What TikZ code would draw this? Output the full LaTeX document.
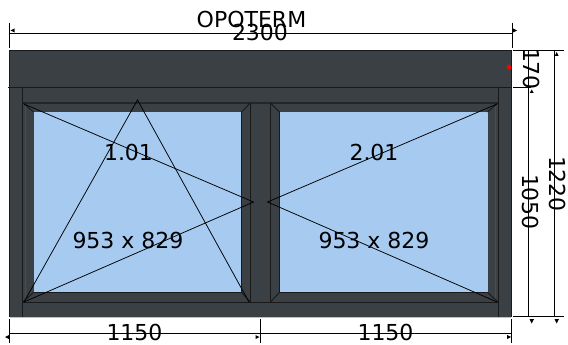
\documentclass[tikz,border=0pt]{standalone}
\usepackage{fontspec}
\setmainfont{DejaVu Sans}
\begin{document}
\begin{tikzpicture}[x=1pt,y=-1pt,
  frameline/.style={draw=black!90,line width=0.9pt,line join=miter},
  band/.style={draw=black!85,line width=1.4pt},
  faint/.style={draw=black!70,line width=0.4pt},
  dim/.style={draw=black,line width=0.8pt},
  tip/.style={fill=black,draw=none},
  lbl/.style={font=\fontsize{22}{22}\selectfont,inner sep=0pt,text=black},
  open/.style={draw=black,line width=0.75pt}]
\definecolor{frameC}{HTML}{3A4044}
\definecolor{glassC}{HTML}{A6CAF0}
\useasboundingbox (0,0) rectangle (568,345);
% frame
\fill[frameC] (9.5,50.5) rectangle (511,317);
\fill[glassC] (33.5,112) rectangle (241.5,292.3);
\fill[glassC] (279.5,112) rectangle (487.5,292.3);
\draw[frameline] (9.5,317) -- (9.5,50.5) -- (511,50.5) -- (511,317);
\draw[draw=black!25,line width=0.7pt] (9.5,317.3) -- (511,317.3);
\draw[frameline] (8,87.5) -- (511,87.5);
\draw[frameline] (22.7,87.5) -- (22.7,317);
\draw[frameline] (498,87.5) -- (498,317);
\draw[faint] (25.5,103) -- (25.5,302) (495.5,103) -- (495.5,302);
% bands across both sashes
\draw[band] (23,103) -- (498,103);
\draw[frameline] (23,302) -- (498,302);
% left sash
\draw[frameline] (250.3,103) -- (250.3,302);
\draw[frameline] (241.5,112) -- (241.5,292.3) -- (33.5,292.3);
\draw[frameline] (23,103) -- (33.5,112) (250.3,103) -- (241.5,112)
  (23,302) -- (33.5,292.3) (250.3,302) -- (241.5,292.3);
% right sash
\draw[frameline] (270.5,103) -- (270.5,302);
\draw[frameline] (279.5,112) -- (279.5,292.3) -- (487.5,292.3);
\draw[frameline] (270.5,103) -- (279.5,112) (498,103) -- (487.5,112)
  (270.5,302) -- (279.5,292.3) (498,302) -- (487.5,292.3);
% opening lines
\draw[open] (24,104) -- (253.5,202) -- (24,302);
\draw[open] (24,302) -- (137.5,100) -- (249,302);
\draw[open] (497,104) -- (267.5,202) -- (497,302);
% handle
\fill[red] (509,67) circle (2.4);
% dimension lines
\coordinate (tl) at (9.5,33);
\coordinate (tr) at (512,33);
\draw[dim] (tl) -- (tr);
\draw[dim] (9.5,23) -- (9.5,48) (512,23) -- (512,48);
\fill[tip] (10.5,30.5) -- (14.5,28.5) -- (14.5,32.5) -- cycle;
\fill[tip] (517,30.5) -- (513,28.5) -- (513,32.5) -- cycle;
\draw[dim] (9.5,333.5) -- (511,333.5);
\draw[dim] (9.5,319) -- (9.5,343) (260.5,319) -- (260.5,343) (511,319) -- (511,343);
\fill[tip] (5,337) -- (9,335) -- (9,339) -- cycle;
\fill[tip] (259.5,337) -- (255.5,335) -- (255.5,339) -- cycle;
\fill[tip] (511,337) -- (507,335) -- (507,339) -- cycle;
\draw[dim] (513,50.5) -- (564,50.5) (513,87.5) -- (531,87.5) (513,316.5) -- (564,316.5);
\draw[dim] (528.5,50.5) -- (528.5,316.5);
\draw[dim] (554,50.5) -- (554,316.5);
\fill[tip] (531.7,323.5) -- (529.5,319) -- (534,319) -- cycle;
\fill[tip] (556.7,323.5) -- (554.5,319) -- (559,319) -- cycle;
\fill[tip] (556.7,52) -- (554.7,56) -- (558.7,56) -- cycle;
\fill[tip] (531.7,89.5) -- (529.7,93) -- (533.7,93) -- cycle;
% labels
\node[lbl] (title) at (251.5,19.5) {OPOTERM};
\node[lbl] (width) at (260,32) {2300};
\node[lbl] (w1) at (134.5,332) {1150};
\node[lbl] (w2) at (385.5,332) {1150};
\node[lbl,rotate=-90] (h1) at (532,69) {170};
\node[lbl,rotate=-90] (h2) at (531,202) {1050};
\node[lbl,rotate=-90] (h3) at (557.5,184) {1220};
\node[lbl] (s1) at (128.5,152) {1.01};
\node[lbl] (d1) at (128,240) {953 x 829};
\node[lbl] (s2) at (374,152) {2.01};
\node[lbl] (d2) at (374,240) {953 x 829};
\end{tikzpicture}
\end{document}
